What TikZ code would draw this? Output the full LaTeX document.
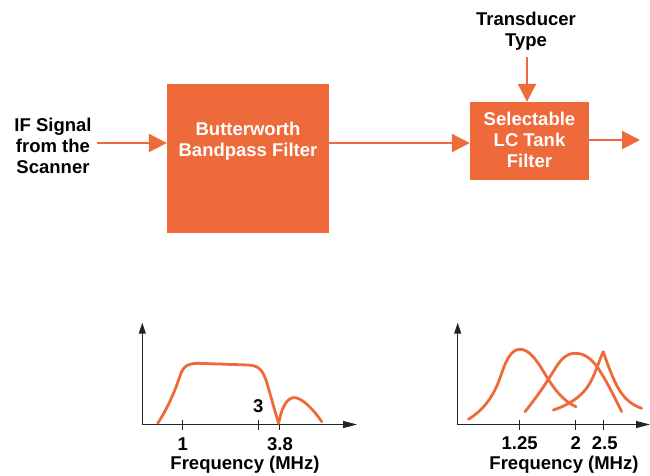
\documentclass[tikz,border=0pt]{standalone}
\usepackage{fontspec}
\setmainfont{Liberation Sans}
\usetikzlibrary{arrows.meta}
\definecolor{hporange}{RGB}{238,106,58}
\definecolor{axiscol}{RGB}{30,38,38}
\begin{document}
\begin{tikzpicture}[x=1pt,y=-1pt,
  lbl/.style={font=\fontsize{18.5}{21}\selectfont\bfseries, text=black, align=center, inner sep=0pt},
  boxtxt/.style={font=\fontsize{18.5}{21}\selectfont\bfseries, text=white, align=center, inner sep=0pt},
  filterbox/.style={fill=hporange, draw=none, inner sep=0pt},
  sig/.style={draw=hporange, line width=2.2pt, -{Triangle[length=18pt,width=18pt]}},
  axis/.style={draw=axiscol, line width=1.1pt},
  tick/.style={draw=axiscol, line width=1.4pt},
  curve/.style={draw=hporange, line width=2.8pt, line cap=round, line join=round}]
\useasboundingbox (0,0) rectangle (650,475);

% ---- block diagram ----
\node[lbl] (ifsig) at (53,146) {IF Signal\\from the\\Scanner};
\node[filterbox, minimum width=162pt, minimum height=149pt] (bw) at (248,158.5) {};
\node[boxtxt] (bwtxt) at (248,141.5) {Butterworth\\Bandpass Filter};
\node[filterbox, minimum width=119pt, minimum height=78pt] (lc) at (529.5,141) {};
\node[boxtxt] (lctxt) at (529.5,140) {Selectable\\LC Tank\\Filter};
\node[lbl] (trans) at (526,31.5) {Transducer\\Type};

\coordinate (in0) at (97,143);
\coordinate (in1) at (bw.west |- in0);
\draw[sig] (in0) -- (in1);
\coordinate (m0) at (bw.east |- in0);
\coordinate (m1) at (lc.west |- in0);
\draw[sig] (m0) -- (m1);
\coordinate (t0) at (527,57);
\coordinate (t1) at (t0 |- lc.north);
\draw[sig] (t0) -- (t1);
\coordinate (o0) at (lc.east |- 0,140);
\coordinate (o1) at (640,140);
\draw[sig] (o0) -- (o1);

% ---- left plot ----
\coordinate (lo) at (142.3,424.5);
\coordinate (ly) at (142.3,322.7);
\coordinate (lx) at (357,424.5);
\draw[axis, -{Triangle[length=11pt,width=7pt]}] (lo) -- (ly);
\draw[axis, -{Triangle[length=14pt,width=7pt]}] (lo) -- (lx);
\foreach \x in {182.7,258.3,279.3} \draw[tick] (\x,419.5) -- (\x,429.5);
\node[lbl] (l1) at (182.7,444) {1};
\node[lbl] (l38) at (280,444) {3.8};
\node[lbl] (l3) at (258.3,406.5) {3};
\node[lbl] (lf) at (245,465) {Frequency (MHz)};
\draw[curve] (157.7,423.3) .. controls (168,408) and (176,388) .. (180,376)
  .. controls (183,366) and (188,363.5) .. (198,363.3) -- (248,365)
  .. controls (258,365.5) and (262,369) .. (266,380)
  .. controls (270,393) and (275,412) .. (278.7,423.3)
  .. controls (281,410) and (286,398) .. (294,397.5)
  .. controls (302,397.5) and (314,410) .. (321.7,421.7);

% ---- right plot ----
\coordinate (ro) at (457.7,424.5);
\coordinate (ry) at (457.7,322.7);
\coordinate (rx) at (650,424.5);
\draw[axis, -{Triangle[length=11pt,width=7pt]}] (ro) -- (ry);
\draw[axis, -{Triangle[length=14pt,width=7pt]}] (ro) -- (rx);
\foreach \x in {519.3,575.7,603.3} \draw[tick] (\x,419.5) -- (\x,429.5);
\node[lbl] (r125) at (519.7,443) {1.25};
\node[lbl] (r2) at (575.7,443) {2};
\node[lbl] (r25) at (604.7,443) {2.5};
\node[lbl] (rf) at (564,465) {Frequency (MHz)};
% curve 1 (1.25 MHz)
\draw[curve] (468.3,419.3) .. controls (482,411) and (493,398) .. (500,378)
  .. controls (506,360) and (511,349.3) .. (520,349.3)
  .. controls (529,349.3) and (536,359) .. (545,374)
  .. controls (554,389) and (563,401) .. (576,406.7);
% curve 2 (2 MHz)
\draw[curve] (525,411.7) .. controls (536,398) and (545,385) .. (553,372)
  .. controls (560,360) and (566,353.3) .. (575,353.3)
  .. controls (584,353.3) and (591,358) .. (598,368)
  .. controls (606,380) and (614,396) .. (621.7,411.7);
% curve 3 (2.5 MHz)
\draw[curve] (553.3,410) .. controls (568,405) and (581,398) .. (590,383)
  .. controls (596,372) and (600,358) .. (603.3,351.7)
  .. controls (606,360) and (611,374) .. (617,386)
  .. controls (624,399) and (632,405) .. (641.7,408.3);
\end{tikzpicture}
\end{document}
